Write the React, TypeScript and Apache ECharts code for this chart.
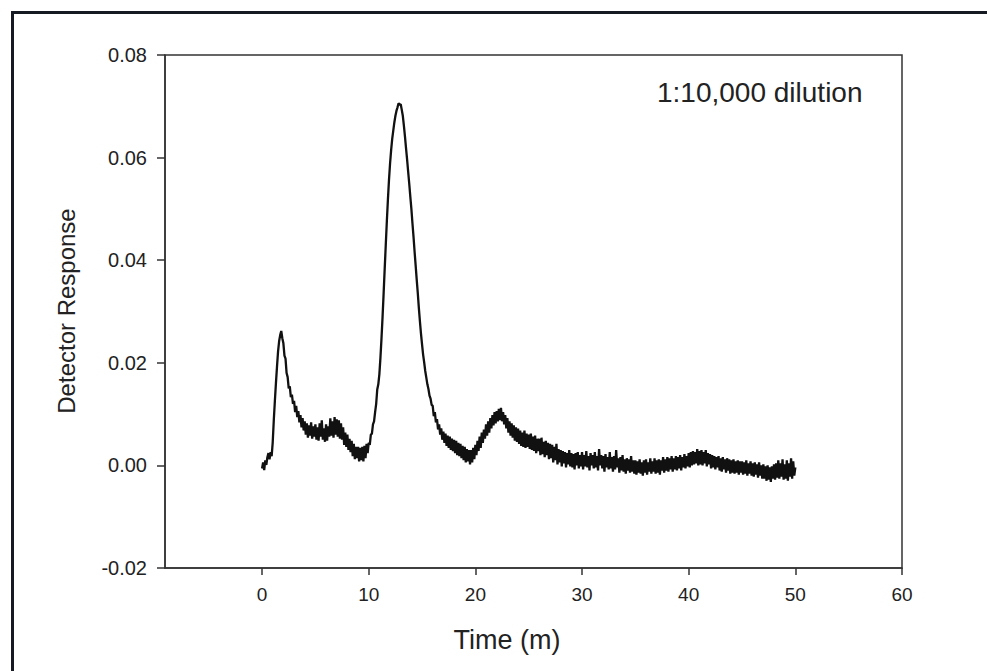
import React, { useEffect, useRef } from "react";
import * as echarts from "echarts";

// Sampling of the detector trace (minutes)
const TIME_START = 0;
const TIME_STEP = 0.1;

// Detector response, in units of 1e-4, one value per 0.1 min (0.0 .. 50.0)
const responseE4: number[] = [
  -6, 6, -9, 10, 1, 16, 24, 12, 26, 18,
  45, 88, 125, 160, 192, 222, 242, 254, 262, 248,
  238, 214, 208, 180, 172, 150, 154, 133, 138, 120,
  126, 104, 116, 94, 106, 84, 98, 74, 92, 68,
  86, 60, 82, 54, 78, 58, 84, 52, 76, 56,
  80, 50, 74, 48, 82, 56, 88, 50, 72, 46,
  80, 48, 76, 56, 92, 58, 86, 54, 94, 60,
  90, 56, 88, 52, 82, 50, 74, 40, 64, 36,
  60, 30, 52, 26, 48, 18, 42, 12, 36, 14,
  36, 8, 34, 10, 36, 8, 38, 14, 42, 24,
  44, 40, 60, 62, 80, 86, 104, 120, 148, 158,
  178, 210, 248, 290, 336, 384, 430, 476, 518, 556,
  588, 614, 636, 652, 668, 681, 691, 698, 706, 703,
  704, 693, 681, 662, 641, 618, 596, 572, 549, 524,
  500, 472, 446, 417, 390, 362, 336, 307, 281, 257,
  236, 216, 201, 184, 171, 158, 149, 136, 130, 118,
  116, 96, 104, 84, 90, 70, 80, 60, 72, 50,
  66, 44, 62, 38, 58, 34, 56, 30, 52, 28,
  50, 24, 48, 20, 44, 18, 42, 14, 38, 10,
  36, 6, 32, 8, 30, 2, 30, 6, 34, 12,
  40, 20, 48, 28, 56, 34, 64, 44, 70, 52,
  80, 58, 86, 64, 92, 72, 98, 78, 104, 82,
  106, 86, 110, 88, 112, 86, 104, 80, 98, 72,
  92, 64, 86, 58, 82, 54, 78, 48, 74, 46,
  72, 42, 68, 38, 64, 36, 68, 34, 62, 36,
  60, 32, 62, 30, 56, 28, 58, 24, 52, 28,
  52, 20, 54, 22, 46, 16, 48, 20, 44, 12,
  42, 14, 40, 6, 36, 10, 42, 2, 32, 6,
  30, -2, 28, 4, 26, -4, 24, 2, 30, -2,
  24, -4, 22, -8, 24, 0, 26, -6, 20, -2,
  26, -8, 20, -2, 28, -4, 18, -10, 24, 0,
  20, -6, 26, -4, 18, -10, 32, 0, 20, -6,
  18, -12, 22, -4, 16, -8, 26, -6, 16, -12,
  18, -8, 30, -4, 14, -14, 16, -10, 20, -12,
  12, -16, 14, -10, 12, -14, 18, -12, 10, -16,
  10, -18, 8, -14, 12, -16, 6, -20, 10, -14,
  12, -18, 6, -12, 14, -16, 8, -12, 14, -16,
  10, -14, 12, -18, 10, -10, 16, -14, 12, -10,
  16, -12, 14, -8, 18, -12, 14, -8, 18, -10,
  16, -6, 20, -10, 16, -4, 22, -6, 18, -2,
  24, -4, 26, 0, 28, 2, 26, 4, 32, 0,
  28, 2, 30, 0, 26, 4, 30, -2, 24, 2,
  22, -6, 20, -4, 18, -8, 16, -4, 18, -10,
  14, -12, 16, -8, 12, -14, 14, -10, 12, -16,
  10, -14, 12, -16, 8, -14, 10, -18, 8, -14,
  8, -18, 6, -16, 10, -20, 4, -16, 8, -20,
  4, -22, 6, -18, 2, -24, 6, -20, 0, -26,
  2, -26, -2, -30, 0, -28, -4, -32, -2, -26,
  2, -28, 4, -24, 10, -26, 4, -22, 12, -28,
  2, -26, 10, -30, 4, -22, 14, -26, 8, -20,
  -4,
];

const xTickValues = [0, 10, 20, 30, 40, 50, 60];
const yTickValues = [-0.02, 0.0, 0.02, 0.04, 0.06, 0.08];

const annotationText = "1:10,000 dilution";
const xAxisTitle = "Time (m)";
const yAxisTitle = "Detector Response";

const FONT = "'Liberation Sans', Arial, Helvetica, sans-serif";

export default function App() {
  const ref = useRef<HTMLDivElement>(null);

  useEffect(() => {
    if (!ref.current) return;
    const chart = echarts.init(ref.current, null, { renderer: "svg" });

    const seriesData = responseE4.map((v, i) => [
      +(TIME_START + i * TIME_STEP).toFixed(2),
      v / 10000,
    ]);

    const axisColor = "#333";
    const textColor = "#222";

    chart.setOption({
      animation: false,
      backgroundColor: "#fff",
      grid: {
        left: 165,
        right: 85,
        top: 55,
        bottom: 103,
        show: true,
        borderColor: axisColor,
        borderWidth: 1.5,
        backgroundColor: "transparent",
      },
      xAxis: {
        type: "value",
        min: -9.1,
        max: 60,
        axisLine: { show: true, onZero: false, lineStyle: { color: axisColor, width: 1.5 } },
        axisTick: {
          show: true,
          length: 7,
          customValues: xTickValues,
          lineStyle: { color: axisColor, width: 1.5 },
        },
        axisLabel: {
          customValues: xTickValues,
          margin: 17,
          fontSize: 19,
          color: textColor,
          fontFamily: FONT,
        },
        splitLine: { show: false },
      },
      yAxis: {
        type: "value",
        min: -0.02,
        max: 0.08,
        interval: 0.02,
        axisLine: { show: true, onZero: false, lineStyle: { color: axisColor, width: 1.5 } },
        axisTick: {
          show: true,
          length: 8,
          customValues: yTickValues,
          lineStyle: { color: axisColor, width: 1.5 },
        },
        axisLabel: {
          customValues: yTickValues,
          margin: 18,
          fontSize: 20,
          color: textColor,
          fontFamily: FONT,
          formatter: (v: number) => v.toFixed(2),
        },
        splitLine: { show: false },
      },
      series: [
        {
          type: "line",
          data: seriesData,
          showSymbol: false,
          symbol: "none",
          lineStyle: { color: "#111", width: 2.3 },
          silent: true,
        },
      ],
      graphic: [
        {
          type: "rect",
          shape: { x: 12.5, y: 12.5, width: 1000, height: 700 },
          style: { fill: "none", stroke: "#161a22", lineWidth: 3 },
          silent: true,
        },
        {
          type: "text",
          x: 657,
          y: 92,
          style: {
            text: annotationText,
            fontSize: 28,
            fontFamily: FONT,
            fill: textColor,
            align: "left",
            verticalAlign: "middle",
          },
        },
        {
          type: "text",
          x: 507,
          y: 640,
          style: {
            text: xAxisTitle,
            fontSize: 27,
            fontFamily: FONT,
            fill: textColor,
            align: "center",
            verticalAlign: "middle",
          },
        },
        {
          type: "text",
          x: 66,
          y: 311,
          rotation: Math.PI / 2,
          style: {
            text: yAxisTitle,
            fontSize: 24,
            fontFamily: FONT,
            fill: textColor,
            align: "center",
            verticalAlign: "middle",
          },
        },
      ],
    });

    return () => chart.dispose();
  }, []);

  return (
    <div
      ref={ref}
      style={{ position: "fixed", left: 0, top: 0, width: 987, height: 671, background: "#fff" }}
    />
  );
}
